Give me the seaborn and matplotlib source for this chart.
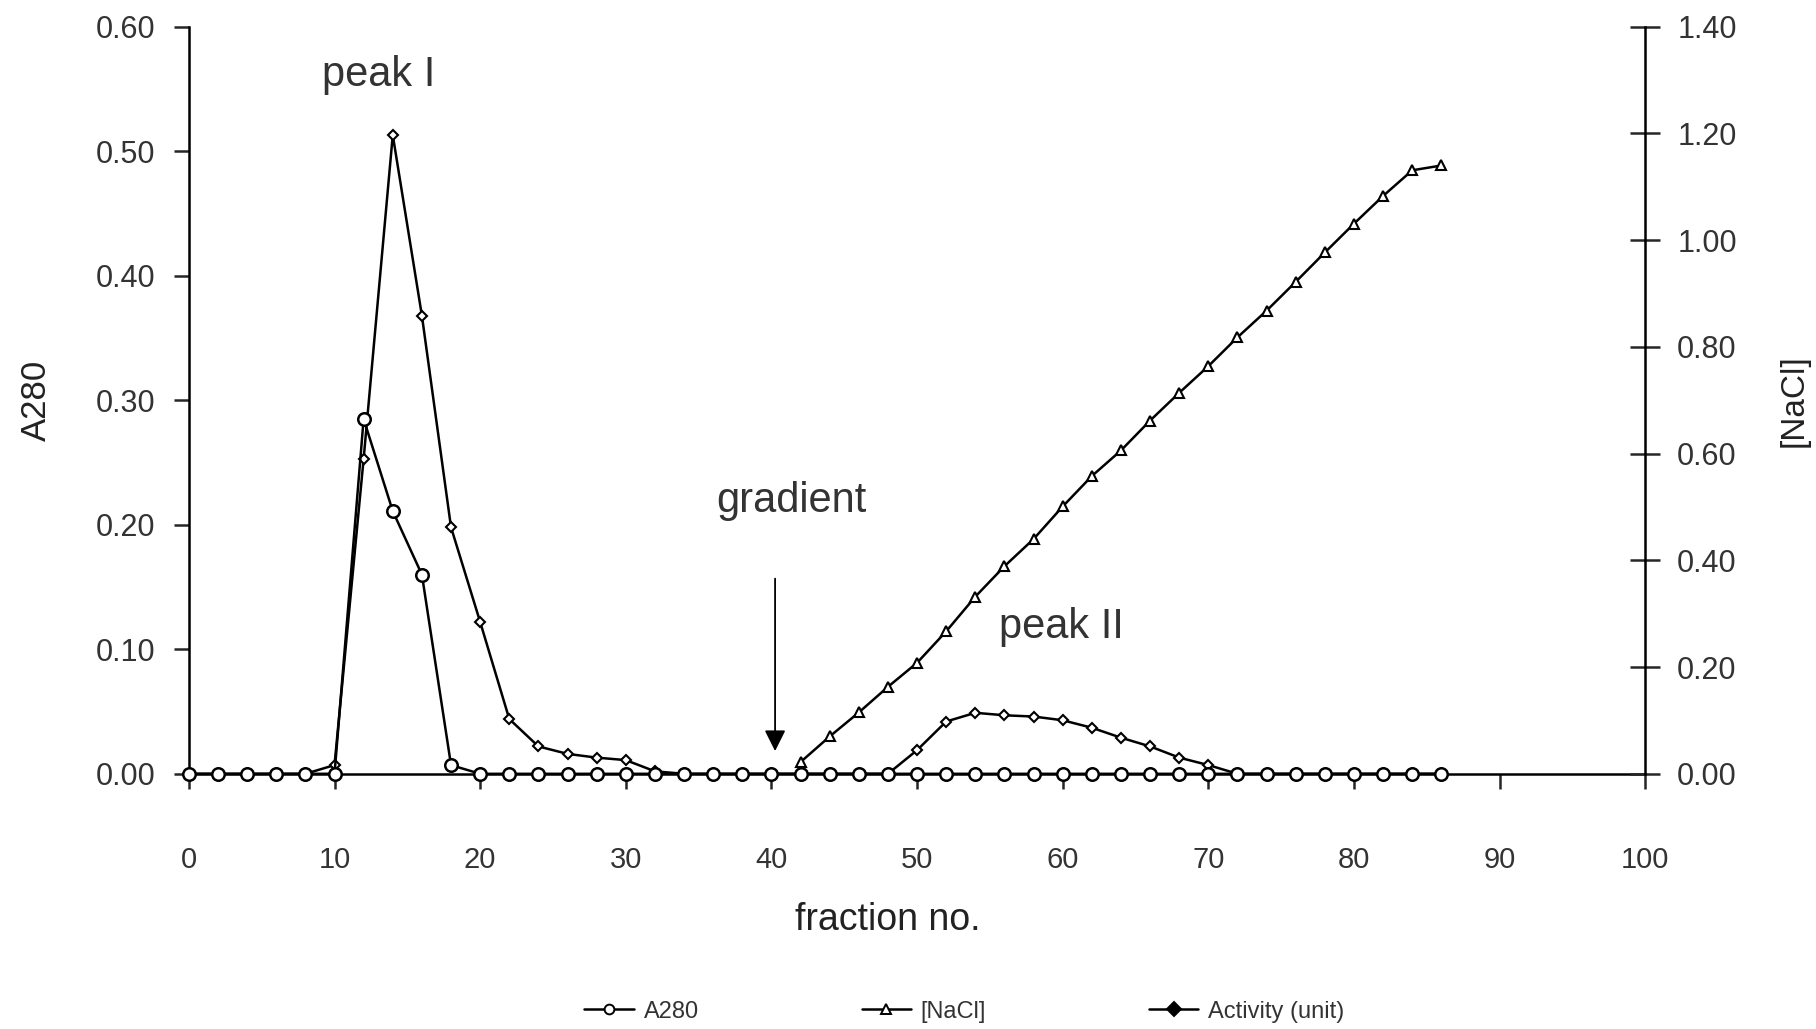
import matplotlib
matplotlib.use('Agg')
import matplotlib.pyplot as plt
import seaborn as sns
import numpy as np

# fraction numbers (every second fraction collected)
fractions = list(range(0, 88, 2))

a280 = [0.0, 0.0, 0.0, 0.0, 0.0, 0.0, 0.285, 0.211, 0.160, 0.007,
        0.0, 0.0, 0.0, 0.0, 0.0, 0.0, 0.0, 0.0, 0.0, 0.0,
        0.0, 0.0, 0.0, 0.0, 0.0, 0.0, 0.0, 0.0, 0.0, 0.0,
        0.0, 0.0, 0.0, 0.0, 0.0, 0.0, 0.0, 0.0, 0.0, 0.0,
        0.0, 0.0, 0.0, 0.0]

activity = [0.0, 0.0, 0.0, 0.0, 0.0, 0.007, 0.253, 0.513, 0.368, 0.198,
            0.122, 0.044, 0.022, 0.016, 0.013, 0.011, 0.002, 0.0, 0.0, 0.0,
            0.0, 0.0, 0.0, 0.0, 0.0, 0.019, 0.042, 0.049, 0.047, 0.046,
            0.043, 0.037, 0.029, 0.022, 0.013, 0.007, 0.0, 0.0, 0.0, 0.0,
            0.0, 0.0, 0.0, 0.0]

nacl_fractions = list(range(42, 88, 2))
nacl = [0.022, 0.070, 0.115, 0.163, 0.208, 0.267, 0.332, 0.389, 0.440, 0.501,
        0.558, 0.606, 0.662, 0.714, 0.764, 0.818, 0.868, 0.922, 0.977, 1.031,
        1.083, 1.131, 1.140]

sns.set_style('white')
plt.rcParams['font.family'] = ['Liberation Sans', 'DejaVu Sans']
txt = '#333333'

fig, ax = plt.subplots(figsize=(18.16, 10.29), dpi=100)
fig.subplots_adjust(left=0.104, right=0.906, bottom=0.248, top=0.974)
ax2 = ax.twinx()

lw = 1.8
sns.lineplot(x=fractions, y=activity, ax=ax, color='black', lw=lw, marker='D', markersize=5.5,
             markerfacecolor='white', markeredgecolor='black', markeredgewidth=1.5,
             clip_on=False, zorder=3)
sns.lineplot(x=fractions, y=a280, ax=ax, color='black', lw=lw, marker='o', markersize=9,
             markerfacecolor='white', markeredgecolor='black', markeredgewidth=1.8,
             clip_on=False, zorder=4)
sns.lineplot(x=nacl_fractions, y=nacl, ax=ax2, color='black', lw=lw, marker='^', markersize=7.5,
             markerfacecolor='white', markeredgecolor='black', markeredgewidth=1.5,
             clip_on=False, zorder=3)

ax.set_xlim(0, 100)
ax.set_ylim(0, 0.6)
ax2.set_ylim(0, 1.4)

for a in (ax, ax2):
    a.spines['top'].set_visible(False)
    for s in a.spines.values():
        s.set_linewidth(1.8)
        s.set_color('black')
ax2.spines['left'].set_visible(False)
ax2.spines['bottom'].set_visible(False)
ax.spines['right'].set_visible(False)

ax.set_xticks(np.arange(0, 101, 10))
ax.set_yticks(np.arange(0, 0.61, 0.1))
ax.set_yticklabels([f'{v:.2f}' for v in np.arange(0, 0.61, 0.1)])
ax2.set_yticks(np.arange(0, 1.41, 0.2))
ax2.set_yticklabels([f'{v:.2f}' for v in np.arange(0, 1.41, 0.2)])

ax.tick_params(axis='x', direction='out', length=11, width=1.8, pad=41,
               labelsize=21, labelcolor=txt, bottom=True)
ax.tick_params(axis='y', direction='out', length=11, width=1.8, pad=13,
               labelsize=22, labelcolor=txt, left=True)
ax2.tick_params(axis='y', direction='inout', length=22, width=1.8, pad=12,
                labelsize=22, labelcolor=txt, right=True)

ax.set_xlabel('fraction no.', fontsize=27, color='#222222', labelpad=20)
ax.xaxis.label.set_x(0.48)
ax.set_ylabel('A280', fontsize=25, color='#222222', labelpad=31)
ax2.set_ylabel('[NaCl]', fontsize=24, color='#222222', labelpad=30, rotation=90)

ax.text(13.05, 0.561, 'peak I', fontsize=30, color=txt, ha='center', va='center')
ax.text(41.4, 0.219, 'gradient', fontsize=30, color=txt, ha='center', va='center')
ax.text(59.9, 0.118, 'peak II', fontsize=30, color=txt, ha='center', va='center')
ax.annotate('', xy=(40.25, 0.016), xytext=(40.25, 0.159),
            arrowprops=dict(arrowstyle='-|>', lw=1.3, color='black', mutation_scale=32))

handles = [ax.lines[1], ax2.lines[0], ax.lines[0]]
leg = fig.legend(handles, ['A280', '[NaCl]', 'Activity (unit)'], loc='center',
                 bbox_to_anchor=(0.531, 0.017), ncol=3, frameon=False, fontsize=17,
                 handlelength=2.1, columnspacing=6.9, handletextpad=0.4,
                 labelcolor=txt)
for h in leg.legend_handles:
    h.set_markersize(7)
    h.set_markeredgewidth(1.4)
leg.legend_handles[2].set_markerfacecolor('black')

fig.savefig('out.png', dpi=100)
